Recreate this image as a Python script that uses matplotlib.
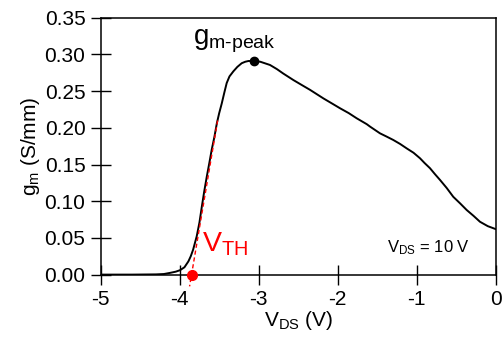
import numpy as np
import matplotlib
matplotlib.use("Agg")
import matplotlib.pyplot as plt

plt.rcParams['font.family'] = ['Liberation Sans', 'DejaVu Sans']
plt.rcParams['mathtext.fontset'] = 'custom'
plt.rcParams['mathtext.rm'] = 'Liberation Sans'
plt.rcParams['mathtext.it'] = 'Liberation Sans'
plt.rcParams['axes.unicode_minus'] = False

# transconductance sweep
vgs = [-5.0, -4.6, -4.3, -4.2, -4.115, -4.05, -3.996, -3.94, -3.89, -3.86,
       -3.83, -3.81, -3.785, -3.75, -3.72, -3.69, -3.658, -3.625, -3.595,
       -3.56, -3.53, -3.50, -3.468, -3.435, -3.405, -3.37, -3.32, -3.27,
       -3.215, -3.17, -3.13, -3.07, -2.98, -2.857, -2.77, -2.69, -2.56,
       -2.45, -2.35, -2.18, -2.07, -1.97, -1.86, -1.76, -1.633, -1.59,
       -1.465, -1.38, -1.296, -1.21, -1.127, -1.04, -0.958, -0.90, -0.832,
       -0.77, -0.705, -0.62, -0.537, -0.45, -0.367, -0.28, -0.199, -0.10,
       0.0]
gm = [0.0, 0.0, 0.0003, 0.0008, 0.0025, 0.004, 0.006, 0.010, 0.018, 0.025,
      0.034, 0.042, 0.052, 0.071, 0.0925, 0.113, 0.133, 0.152, 0.170,
      0.188, 0.206, 0.220, 0.233, 0.248, 0.261, 0.270, 0.277, 0.283,
      0.288, 0.290, 0.291, 0.291, 0.290, 0.2856, 0.280, 0.274, 0.265,
      0.258, 0.2517, 0.240, 0.233, 0.2266, 0.220, 0.213, 0.205, 0.2016,
      0.1925, 0.188, 0.1834, 0.178, 0.172, 0.166, 0.1585, 0.152, 0.145,
      0.137, 0.129, 0.118, 0.106, 0.097, 0.088, 0.080, 0.072, 0.066,
      0.062]

gm_peak_v, gm_peak = -3.06, 0.291
vth = -3.85
tangent_v = [-3.52, -3.875]
tangent_gm = [0.21, -0.016]

xticks = [-5, -4, -3, -2, -1, 0]
yticks = [0.00, 0.05, 0.10, 0.15, 0.20, 0.25, 0.30, 0.35]

fig = plt.figure(figsize=(5.04, 3.43), dpi=100)
ax = fig.add_axes([0.1998, 0.1994, 0.7837, 0.749])

ax.plot(vgs, gm, color='black', lw=1.4)
ax.plot(tangent_v, tangent_gm, color='red', lw=1.0, ls=(0, (3, 2)), clip_on=False)
ax.plot([gm_peak_v], [gm_peak], 'o', color='black', ms=6)
ax.plot([vth], [0.0], 'o', color='red', ms=7, clip_on=False, zorder=5)

ax.text(-3.83, 0.318, r'g$_{\text{m-peak}}$', fontsize=20, color='black', va='center')
ax.text(-3.72, 0.042, r'V$_{\mathrm{TH}}$', fontsize=20.5, color='red', va='center')
ax.text(-1.37, 0.037, r'V$_{\mathrm{DS}}$ = 10 V', fontsize=12, color='black', va='center')

ax.set_xlim(-5, 0)
ax.set_ylim(0, 0.35)
ax.set_xticks(xticks)
ax.set_xticklabels([str(t) for t in xticks])
ax.set_yticks(yticks)
ax.set_yticklabels([f"{t:.2f}" for t in yticks])
ax.tick_params(direction='inout', length=14, width=1.0, labelsize=15, pad=4)
for s in ax.spines.values():
    s.set_linewidth(1.1)

ax.set_xlabel(r'V$_{\mathrm{DS}}$ (V)', fontsize=15, labelpad=0)
ax.set_ylabel(r'g$_{\mathrm{m}}$ (S/mm)', fontsize=15, labelpad=2)

fig.savefig('out.png', dpi=100)
